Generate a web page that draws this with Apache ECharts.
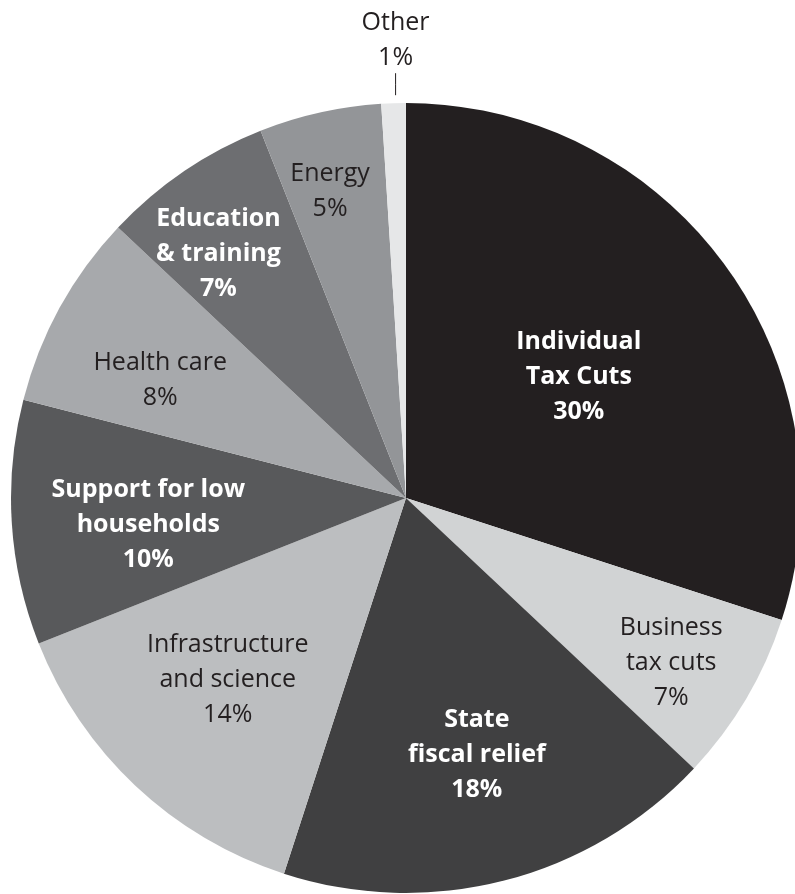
<!DOCTYPE html>
<html>
<head>
<meta charset="utf-8">
<script src="https://cdn.jsdelivr.net/npm/echarts@6/dist/echarts.min.js"></script>
<style>
  html, body { margin: 0; padding: 0; background: #ffffff; }
  #chart { width: 795px; height: 894px; }
</style>
</head>
<body>
<div id="chart"></div>
<script>
// Spending categories, clockwise from 12 o'clock
const categories = [
  'Individual\nTax Cuts',
  'Business\ntax cuts',
  'State\nfiscal relief',
  'Infrastructure\nand science',
  'Support for low\nhouseholds',
  'Health care',
  'Education\n& training',
  'Energy',
  'Other'
];
// Share of the total, percent
const shares = [30, 7, 18, 14, 10, 8, 7, 5, 1];

// Styling per slice
const sliceColors = ['#231f20', '#d1d3d4', '#404041', '#bcbec0', '#58595b', '#a7a9ac', '#6d6e71', '#939598', '#e6e7e8'];
const boldLabel = [true, false, true, false, true, false, true, false, false];
// Label placement inside each slice: fraction of radius, and turn (deg) from the slice's middle
const labelRadius = [0.534, 0.79, 0.675, 0.645, 0.656, 0.69, 0.78, 0.80];
const labelTurn = [1, 1.2, -1, 1.2, -2.4, -3.2, -3.3, -1.3];

const CX = 406, CY = 498, R = 395;
const total = shares.reduce((a, b) => a + b, 0);

function midAngle(i) {
  let before = 0;
  for (let k = 0; k < i; k++) before += shares[k];
  return (before + shares[i] / 2) / total * 360;
}
function polar(angleDeg, r) {
  const a = angleDeg * Math.PI / 180;
  return [CX + r * Math.sin(a), CY - r * Math.cos(a)];
}

const FONT = '"Open Sans", "Noto Sans", sans-serif';
const lastIdx = categories.length - 1;

const data = categories.map((name, i) => {
  const item = {
    name: name,
    value: shares[i],
    itemStyle: { color: sliceColors[i] }
  };
  if (i === lastIdx) {
    item.label = {
      show: true,
      position: 'outside',
      color: '#231f20',
      fontWeight: 'normal'
    };
    item.labelLine = { show: true, length: 10, length2: 0, lineStyle: { color: '#231f20', width: 1 } };
  } else {
    item.label = {
      show: true,
      position: 'inside',
      color: boldLabel[i] ? '#ffffff' : '#231f20',
      fontWeight: boldLabel[i] ? 'bold' : 'normal'
    };
    item.labelLine = { show: false };
  }
  return item;
});

const chart = echarts.init(document.getElementById('chart'), null, { renderer: 'canvas' });
chart.setOption({
  animation: false,
  backgroundColor: '#ffffff',
  series: [{
    type: 'pie',
    center: [CX, CY],
    radius: [0, R],
    startAngle: 90,
    clockwise: true,
    avoidLabelOverlap: false,
    data: data,
    itemStyle: { borderWidth: 0 },
    emphasis: { disabled: true },
    label: {
      formatter: p => p.name + '\n' + p.value + '%',
      fontFamily: FONT,
      fontSize: 25,
      lineHeight: 35,
      align: 'center'
    },
    labelLayout: function (params) {
      const i = params.dataIndex;
      if (i === lastIdx) {
        const rim = polar(midAngle(i), R);
        const x = rim[0] + 2;
        return {
          x: x,
          y: rim[1] - 28,
          align: 'center',
          verticalAlign: 'bottom',
          labelLinePoints: [[x, rim[1] - 8], [x, rim[1] - 19], [x, rim[1] - 30]]
        };
      }
      const p = polar(midAngle(i) + labelTurn[i], R * labelRadius[i]);
      return { x: p[0], y: p[1], align: 'center', verticalAlign: 'middle' };
    }
  }]
});
</script>
</body>
</html>
